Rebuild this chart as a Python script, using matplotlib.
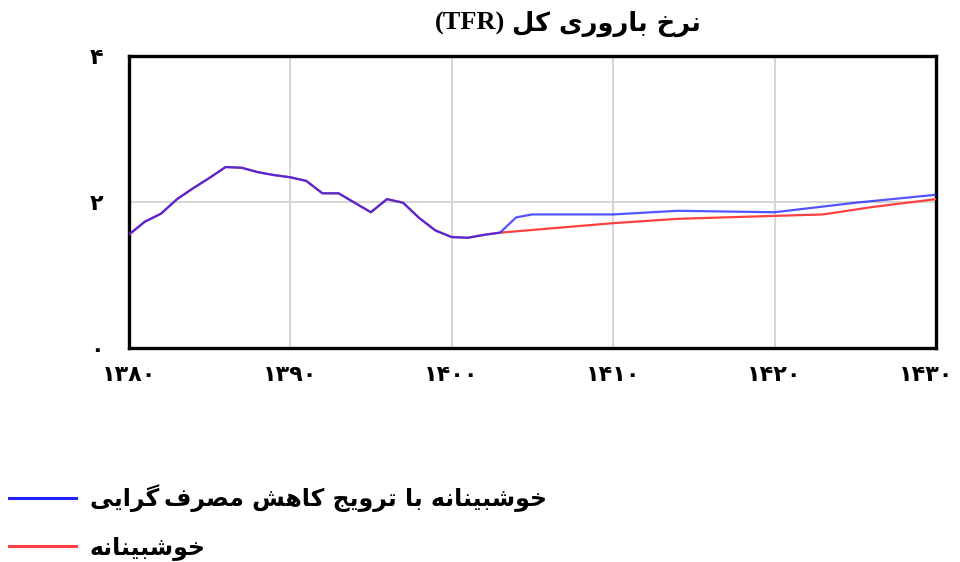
import matplotlib
matplotlib.use("Agg")
import matplotlib.pyplot as plt
from matplotlib.transforms import ScaledTranslation

# Total fertility rate, scenario series (Solar Hijri years)
years_common = [1380, 1381, 1382, 1383, 1384, 1385, 1386, 1387, 1388, 1389,
                1390, 1391, 1392, 1393, 1394, 1395, 1396, 1397, 1398, 1399,
                1400, 1401, 1402, 1403]
tfr_common = [1.55, 1.73, 1.84, 2.04, 2.19, 2.33, 2.48, 2.47, 2.41, 2.37,
              2.34, 2.29, 2.12, 2.12, 1.99, 1.86, 2.04, 1.99, 1.78, 1.61,
              1.52, 1.51, 1.55, 1.58]

years_blue = [1404, 1405, 1410, 1414, 1420, 1425, 1430]
tfr_blue = [1.79, 1.83, 1.83, 1.88, 1.86, 1.99, 2.10]

years_red = [1410, 1414, 1420, 1423, 1426, 1430]
tfr_red = [1.71, 1.77, 1.81, 1.83, 1.93, 2.04]

xticks = [1380, 1390, 1400, 1410, 1420, 1430]
xtick_labels = ['۱۳۸۰', '۱۳۹۰', '۱۴۰۰', '۱۴۱۰', '۱۴۲۰', '۱۴۳۰']
yticks = [0, 2, 4]
ytick_labels = ['۰', '۲', '۴']

title_fa = 'نرخ باروری کل'
title_en = '(TFR)'
label_blue = 'خوشبینانه با ترویج کاهش مصرف\u200cگرایی'
label_red = 'خوشبینانه'

# presentation forms: isolated, final, initial, medial
FORMS = {
    'ا': '\uFE8D\uFE8E', 'ر': '\uFEAD\uFEAE', 'و': '\uFEED\uFEEE',
    'ب': '\uFE8F\uFE90\uFE91\uFE92', 'ت': '\uFE95\uFE96\uFE97\uFE98',
    'ج': '\uFE9D\uFE9E\uFE9F\uFEA0', 'خ': '\uFEA5\uFEA6\uFEA7\uFEA8',
    'ش': '\uFEB5\uFEB6\uFEB7\uFEB8', 'ص': '\uFEB9\uFEBA\uFEBB\uFEBC',
    'ف': '\uFED1\uFED2\uFED3\uFED4', 'ل': '\uFEDD\uFEDE\uFEDF\uFEE0',
    'م': '\uFEE1\uFEE2\uFEE3\uFEE4', 'ن': '\uFEE5\uFEE6\uFEE7\uFEE8',
    'ه': '\uFEE9\uFEEA\uFEEB\uFEEC', 'ی': '\uFBFC\uFBFD\uFBFE\uFBFF',
    'ک': '\uFB8E\uFB8F\uFB90\uFB91', 'گ': '\uFB92\uFB93\uFB94\uFB95',
}


def shape(text):
    """Join Persian letters and return them in visual (left-to-right) order."""
    chars = list(text)
    out = []
    for i, c in enumerate(chars):
        if c == '\u200c':
            # non-joiner: keep a thin gap instead
            out.append('\u2009')
            continue
        if c not in FORMS:
            out.append(c)
            continue
        forms = FORMS[c]
        prev = chars[i - 1] if i > 0 else None
        nxt = chars[i + 1] if i + 1 < len(chars) else None
        join_prev = prev in FORMS and len(FORMS[prev]) == 4
        join_next = nxt in FORMS and len(forms) == 4
        if join_prev and join_next:
            out.append(forms[3])
        elif join_prev:
            out.append(forms[1])
        elif join_next:
            out.append(forms[2])
        else:
            out.append(forms[0])
    return ''.join(reversed(out))


plt.rcParams['font.family'] = ['DejaVu Sans']

fig = plt.figure(figsize=(9.6, 5.62), dpi=100)
ax = fig.add_axes([0.134, 0.381, 0.841, 0.519])

blue = '#2222ff'
red = '#ff4040'
ax.plot(years_common + years_red, tfr_common + tfr_red, color=red, lw=1.6,
        label=shape(label_red), zorder=3)
ax.plot(years_common + years_blue, tfr_common + tfr_blue, color=blue, lw=1.6,
        alpha=0.78, label=shape(label_blue), zorder=4)

ax.set_xlim(1380, 1430)
ax.set_ylim(0, 4)
ax.set_xticks(xticks)
ax.set_xticklabels(xtick_labels, fontsize=16, fontweight='bold')
ax.set_yticks(yticks)
ax.set_yticklabels(ytick_labels, fontsize=16, fontweight='bold')
ax.tick_params(length=0, pad=12)
ax.tick_params(axis='y', pad=18)
ax.grid(True, color='#d0d0d0', lw=1.2)
for s in ax.spines.values():
    s.set_linewidth(2.4)
    s.set_color('black')

# pull the last year label inside the figure edge
last = ax.get_xticklabels()[-1]
last.set_transform(last.get_transform() + ScaledTranslation(-0.1, 0, fig.dpi_scale_trans))

fig.text(0.526, 0.958, title_en, fontsize=19, fontweight='bold',
         family='Liberation Serif', ha='right', va='center')
fig.text(0.533, 0.958, shape(title_fa), fontsize=18.5, fontweight='bold',
         ha='left', va='center')

# blue scenario listed first
handles, labels = ax.get_legend_handles_labels()
leg = fig.legend(handles[::-1], labels[::-1], loc='lower left',
                 bbox_to_anchor=(0.0, -0.013), frameon=False,
                 prop={'size': 17, 'weight': 'bold'}, handlelength=2.8,
                 labelspacing=0.95, handletextpad=0.6, borderpad=0.4,
                 borderaxespad=0.0)
for line in leg.get_lines():
    line.set_alpha(1.0)
    line.set_linewidth(2.2)

fig.savefig('out.png', dpi=100, facecolor='white')
